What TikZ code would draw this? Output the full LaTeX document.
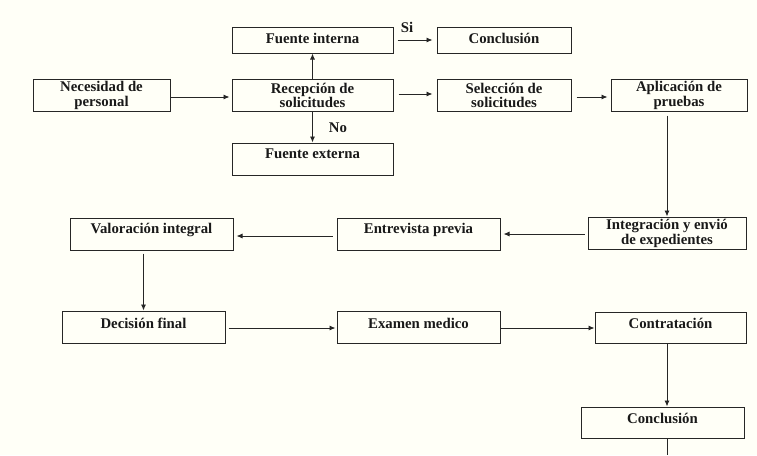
\documentclass[tikz,border=0pt]{standalone}
\usepackage{fontspec}
\setmainfont{Liberation Serif}
\usetikzlibrary{arrows.meta}
\begin{document}
\begin{tikzpicture}[x=1pt,y=-1pt,
  box/.style n args={2}{draw=black!85, line width=1pt, minimum width=#1pt, minimum height=#2pt, inner sep=0pt},
  txt/.style={font=\fontsize{14.8}{14.8}\selectfont\bfseries, align=center, text=black!90, inner sep=0pt},
  arr/.style={draw=black!85, line width=0.9pt, -{Latex[length=6pt,width=5pt]}},
  lin/.style={draw=black!85, line width=1pt}]
\fill[white!97!yellow] (0,0) rectangle (757,455);
\useasboundingbox (0,0) rectangle (757,455);
% row 1
\node[box={161}{26}, label={[txt,yshift=2pt]center:Fuente interna}] (fi) at (312.5,40) {};
\node[box={134}{26}, label={[txt,yshift=2pt]center:Conclusión}] (c1) at (504,40) {};
% row 2
\node[box={137}{32}, label={[txt,yshift=-0.5pt]center:{Necesidad de\\personal}}] (np) at (101.5,95) {};
\node[box={161}{32}, label={[txt,yshift=-0.5pt]center:{Recepción de\\solicitudes}}] (rs) at (312.5,95) {};
\node[box={134}{32}, label={[txt,yshift=-0.5pt]center:{Selección de\\solicitudes}}] (ss) at (504,95) {};
\node[box={136}{32}, label={[txt,yshift=-0.5pt]center:{Aplicación de\\pruebas}}] (ap) at (679,95) {};
% row 3
\node[box={161}{32}, label={[txt,yshift=5pt]center:Fuente externa}] (fe) at (312.5,159) {};
% row 4
\node[box={163}{32}, label={[txt,yshift=4pt]center:Valoración integral}] (vi) at (151.5,234) {};
\node[box={163}{32}, label={[txt,yshift=4pt]center:Entrevista previa}] (ep) at (418.5,234) {};
\node[box={158}{32}, label={[txt,yshift=-0.5pt]center:{Integración y envió\\de expedientes}}] (ie) at (667,233) {};
% row 5
\node[box={163}{32}, label={[txt,yshift=4pt]center:Decisión final}] (df) at (143.5,327) {};
\node[box={163}{32}, label={[txt,yshift=4pt]center:Examen medico}] (em) at (418.5,327) {};
\node[box={151}{31}, label={[txt,yshift=4pt]center:Contratación}] (ct) at (670.5,327.5) {};
% row 6
\node[box={163}{31}, label={[txt,yshift=4pt]center:Conclusión}] (c2) at (662.5,422.5) {};
\coordinate (end) at (667,455);
% connectors
\draw[arr] ([yshift=-2pt]np.east) -- ([xshift=-2pt,yshift=-2pt]np.east -| rs.west);
\draw[arr] (rs.north) -- (fi.south);
\draw[arr] (rs.south) -- (fe.north) node[txt, midway, right=16pt, yshift=-1pt] (no) {No};
\draw[arr] ([xshift=4pt]fi.east) -- ([xshift=-4pt]fi.east -| c1.west) node[txt, midway, above=7pt, xshift=-8pt] (si) {Si};
\draw[arr] ([xshift=5pt,yshift=1pt]rs.east) -- ([xshift=-4pt,yshift=1pt]rs.east -| ss.west);
\draw[arr] ([xshift=5pt,yshift=-2pt]ss.east) -- ([xshift=-3pt,yshift=-2pt]ss.east -| ap.west);
\draw[arr] ([yshift=-4pt]ap.south -| ie.north) -- (ie.north);
\draw[arr] ([xshift=-3pt,yshift=-1pt]ie.west) -- ([xshift=3pt,yshift=-1pt]ie.west -| ep.east);
\draw[arr] ([xshift=-4pt,yshift=-2pt]ep.west) -- ([xshift=3pt,yshift=-2pt]ep.west -| vi.east);
\draw[arr] ([xshift=-8pt,yshift=-3pt]vi.south) -- ([xshift=-8pt]vi.south |- df.north);
\draw[arr] ([xshift=3pt,yshift=-1pt]df.east) -- ([xshift=-1pt,yshift=-1pt]df.east -| em.west);
\draw[arr] ([yshift=-1pt]em.east) -- ([yshift=-1pt]em.east -| ct.west);
\draw[arr] ([xshift=-3.5pt]ct.south) -- ([xshift=-3.5pt]ct.south |- c2.north);
\draw[lin] (end |- c2.south) -- (end);
\end{tikzpicture}
\end{document}
